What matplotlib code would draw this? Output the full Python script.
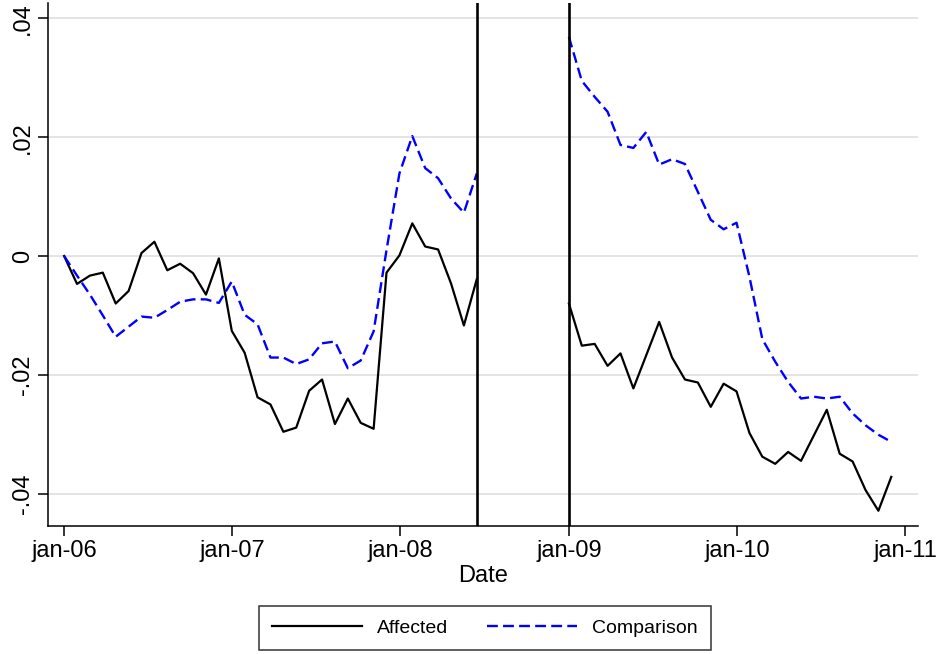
import matplotlib
matplotlib.use("Agg")
import matplotlib.pyplot as plt
import pandas as pd

plt.rcParams['font.family'] = ['Liberation Sans', 'DejaVu Sans']

# 4-weekly observations, before and after the break
dates_pre = pd.date_range("2006-01-01", periods=33, freq="28D")
dates_post = pd.date_range("2009-01-01", periods=26, freq="28D")

affected_pre = [0.0, -0.0047, -0.0033, -0.0028, -0.0080, -0.0059, 0.0005, 0.0024,
                -0.0024, -0.0013, -0.0029, -0.0065, -0.0004, -0.0126, -0.0163, -0.0238,
                -0.0250, -0.0296, -0.0289, -0.0227, -0.0208, -0.0283, -0.0240, -0.0281,
                -0.0291, -0.0028, 0.0001, 0.0055, 0.0016, 0.0011, -0.0046, -0.0117, -0.0039]
comparison_pre = [0.0, -0.0033, -0.0065, -0.0100, -0.0136, -0.0119, -0.0102, -0.0104,
                  -0.0091, -0.0077, -0.0073, -0.0073, -0.0079, -0.0043, -0.0099, -0.0115,
                  -0.0171, -0.0171, -0.0182, -0.0174, -0.0147, -0.0144, -0.0189, -0.0176,
                  -0.0127, 0.0010, 0.0139, 0.0202, 0.0148, 0.0131, 0.0097, 0.0073, 0.0139]

affected_post = [-0.0080, -0.0151, -0.0148, -0.0185, -0.0164, -0.0223, -0.0167, -0.0111,
                 -0.0171, -0.0208, -0.0213, -0.0254, -0.0215, -0.0228, -0.0298, -0.0338,
                 -0.0350, -0.0330, -0.0345, -0.0302, -0.0259, -0.0333, -0.0346, -0.0394,
                 -0.0429, -0.0372]
comparison_post = [0.0369, 0.0295, 0.0268, 0.0243, 0.0187, 0.0182, 0.0209, 0.0154,
                   0.0163, 0.0155, 0.0108, 0.0061, 0.0045, 0.0056, -0.0035, -0.0140,
                   -0.0178, -0.0212, -0.0240, -0.0237, -0.0240, -0.0237, -0.0265, -0.0285,
                   -0.0301, -0.0313]

break_lines = ["2008-06-16", "2009-01-01"]
xtick_dates = ["2006-01-01", "2007-01-01", "2008-01-01", "2009-01-01", "2010-01-01", "2011-01-01"]
xtick_labels = ["jan-06", "jan-07", "jan-08", "jan-09", "jan-10", "jan-11"]
ytick_vals = [-0.04, -0.02, 0.0, 0.02, 0.04]
ytick_labels = ["-.04", "-.02", "0", ".02", ".04"]

fig = plt.figure(figsize=(9.37, 6.54), dpi=100)
ax = fig.add_axes([48 / 937, 1 - 526 / 654, 870 / 937, 523 / 654])

blue = "#0000ff"
dash = (4.6, 2.2)

ax.plot(dates_pre, affected_pre, color="black", lw=1.6, label="Affected")
ax.plot(dates_pre, comparison_pre, color=blue, lw=1.7, dashes=dash, label="Comparison")
ax.plot(dates_post, affected_post, color="black", lw=1.6)
ax.plot(dates_post, comparison_post, color=blue, lw=1.7, dashes=dash)

for d in break_lines:
    ax.axvline(pd.Timestamp(d), color="black", lw=1.9, zorder=3)

ax.set_xlim(pd.Timestamp("2005-11-27"), pd.Timestamp("2011-01-29"))
ax.set_ylim(-0.04547, 0.04261)

ax.set_xticks([pd.Timestamp(d) for d in xtick_dates])
ax.set_xticklabels(xtick_labels, fontsize=17)
ax.set_yticks(ytick_vals)
ax.set_yticklabels(ytick_labels, fontsize=17, rotation=90, va="center")

ax.yaxis.grid(True, color="#e4e4e4", lw=1.4)
ax.set_axisbelow(True)

for s in ["top", "right"]:
    ax.spines[s].set_visible(False)
for s in ["left", "bottom"]:
    ax.spines[s].set_linewidth(1.1)
ax.tick_params(axis="both", direction="out", length=7, width=1.1, pad=3)

ax.set_xlabel("Date", fontsize=17, labelpad=2)

fig.legend(loc="center", bbox_to_anchor=(485 / 937, 1 - 628 / 654), ncol=2,
           fontsize=14, frameon=True, fancybox=False, edgecolor="black",
           handlelength=4.6, handletextpad=0.8, columnspacing=2.0,
           borderpad=0.7)
leg = fig.legends[0]
leg.get_frame().set_linewidth(1.1)

fig.savefig("out.png", dpi=100, facecolor="white")
